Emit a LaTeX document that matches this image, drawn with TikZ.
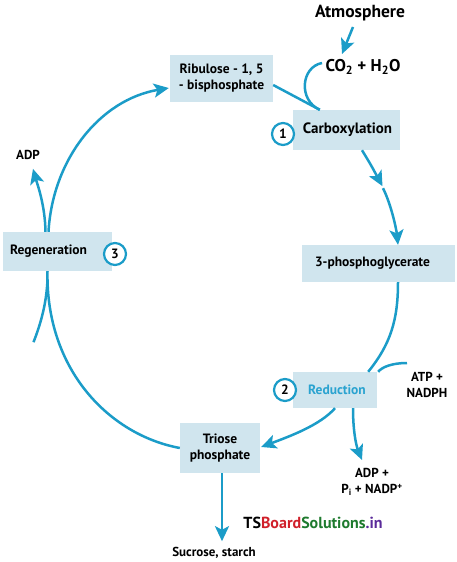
\documentclass[tikz,border=0pt]{standalone}
\usepackage{fontspec}
\setmainfont{PT Sans}
\usetikzlibrary{calc,arrows.meta}
\definecolor{cyc}{HTML}{1B9CC8}
\definecolor{boxfill}{HTML}{D0E5EE}
\definecolor{redtxt}{HTML}{2AA3D0}
\definecolor{wmred}{HTML}{D0202A}
\definecolor{wmgreen}{HTML}{1E7A2E}
\definecolor{wmpurple}{HTML}{5A2A9A}
\begin{document}
\begin{tikzpicture}[x=1pt,y=-1pt,
  font=\bfseries,
  cbox/.style={fill=boxfill,inner sep=0pt,align=center,font=\bfseries\fontsize{13.5}{16}\selectfont},
  lbl/.style={inner sep=0pt,align=center,font=\bfseries\fontsize{13}{15.5}\selectfont},
  num/.style={circle,draw=cyc,line width=2.2pt,fill=white,minimum size=22pt,inner sep=0pt,font=\bfseries\fontsize{13.5}{14}\selectfont},
  conn/.style={draw=cyc,line width=2.5pt},
  arr/.style={conn,-{Stealth[length=15pt,width=14pt,inset=3.5pt]}}]
\useasboundingbox (0,0) rectangle (457,562);
% boxes
\node[cbox,minimum width=103pt,minimum height=47pt] (rib) at (221.5,78.5) {Ribulose - 1, 5\\- bisphosphate};
\node[cbox,minimum width=107pt,minimum height=40pt,font=\bfseries\fontsize{15}{16}\selectfont] (carb) at (346.5,130) {\hspace*{2pt}Carboxylation};
\node[cbox,minimum width=153pt,minimum height=37pt] (pga) at (378.5,263.5) {\hspace*{-12pt}3-phosphoglycerate};
\node[cbox,minimum width=84pt,minimum height=36pt,text=redtxt] (red) at (335,390) {\hspace*{4pt}Reduction};
\node[cbox,minimum width=80pt,minimum height=50pt] (tri) at (220,448) {Triose\\phosphate};
\node[cbox,minimum width=109pt,minimum height=39pt] (regen) at (57.5,251.5) {Regeneration\hspace*{18pt}};
% labels
\node[lbl,font=\bfseries\fontsize{17.5}{18}\selectfont] (atm) at (360,13) {Atmosphere};
\node[lbl,font=\bfseries\fontsize{17}{18}\selectfont] (co2) at (363,67) {CO\textsubscript{2} + H\textsubscript{2}O};
\node[lbl] (adp) at (28,155) {ADP};
\node[lbl] (atp) at (427,385) {ATP +\\NADPH};
\node[lbl,font=\bfseries\fontsize{13}{16}\selectfont] (prod) at (372,482) {ADP +\\P\textsubscript{i} + NADP\textsuperscript{+}};
\node[lbl] (suc) at (214,553) {Sucrose, starch};
\node[inner sep=0pt,font=\bfseries\fontsize{16}{18}\selectfont] (wm) at (313,523) {TS\textcolor{wmred}{Board}\textcolor{wmgreen}{Solutions}\textcolor{wmpurple}{.in}};
% connectors
\draw[arr] ($(atm)+(-7,14)$) -- ($(co2)+(-21,-13)$);
\draw[conn] ($(co2)+(-41,-4)$) .. controls ($(co2)+(-62,0)$) and ($(co2)+(-65,33)$) .. ($(carb.north west)+(27,0)$);
\draw[conn] ($(rib.east)+(0,6.5)$) -- ($(carb.north west)+(27,0)$);
\draw[arr] ($(carb.south)+(15.5,0)$) .. controls ($(carb.south)+(24,14)$) .. ($(carb.south)+(36,36)$);
\draw[arr] ($(carb.south)+(36.5,38)$) .. controls ($(carb.south)+(45,55)$) and ($(carb.south)+(50,80)$) .. ($(pga.north)+(19.5,0)$);
\draw[conn] ($(pga.south)+(19.5,0)$) .. controls ($(pga.south)+(19.5,38)$) and ($(pga.south)+(12,62)$) .. ($(red.north east)+(-9,0)$);
\draw[conn] ($(atp)+(-20,-22)$) .. controls ($(atp)+(-35,-22)$) and ($(atp)+(-45,-18)$) .. ($(red.north east)+(1,0)$);
\draw[arr] ($(red.south)+(18,0)$) .. controls ($(red.south)+(18,22)$) and ($(red.south)+(21,37)$) .. ($(prod)+(-10,-22)$);
\draw[arr] ($(red.south)+(0,0)$) .. controls ($(red.south)+(-15,17)$) and ($(red.south)+(-45,28)$) .. ($(tri.east)+(1,-1)$);
\draw[arr] ($(tri.south)+(2,0)$) -- ($(suc.north)+(8,-6)$);
\draw[conn] (tri.west) .. controls ($(tri.west)+(-70,-13)$) and ($(regen.south)+(-12,99)$) .. ($(regen.south)+(-10,0)$);
\draw[conn] ($(regen.south)+(-10,8)$) .. controls ($(regen.south)+(-11,33)$) and ($(regen.south)+(-17,53)$) .. ($(regen.south)+(-24,71)$);
\draw[arr] ($(regen.north)+(-12,0)$) .. controls ($(regen.north)+(-12.5,-27)$) and ($(regen.north)+(-20,-47)$) .. ($(adp.south)+(5,9)$);
\draw[arr] ($(regen.north)+(-9,0)$) .. controls ($(regen.north)+(-5,-72)$) and ($(regen.north)+(42,-132)$) .. ($(rib.west)+(-1,9.5)$);
% numbers
\node[num] (n1) at (283,134) {1};
\node[num] (n2) at (285,390) {2};
\node[num] (n3) at (115,254) {3};
\end{tikzpicture}
\end{document}
